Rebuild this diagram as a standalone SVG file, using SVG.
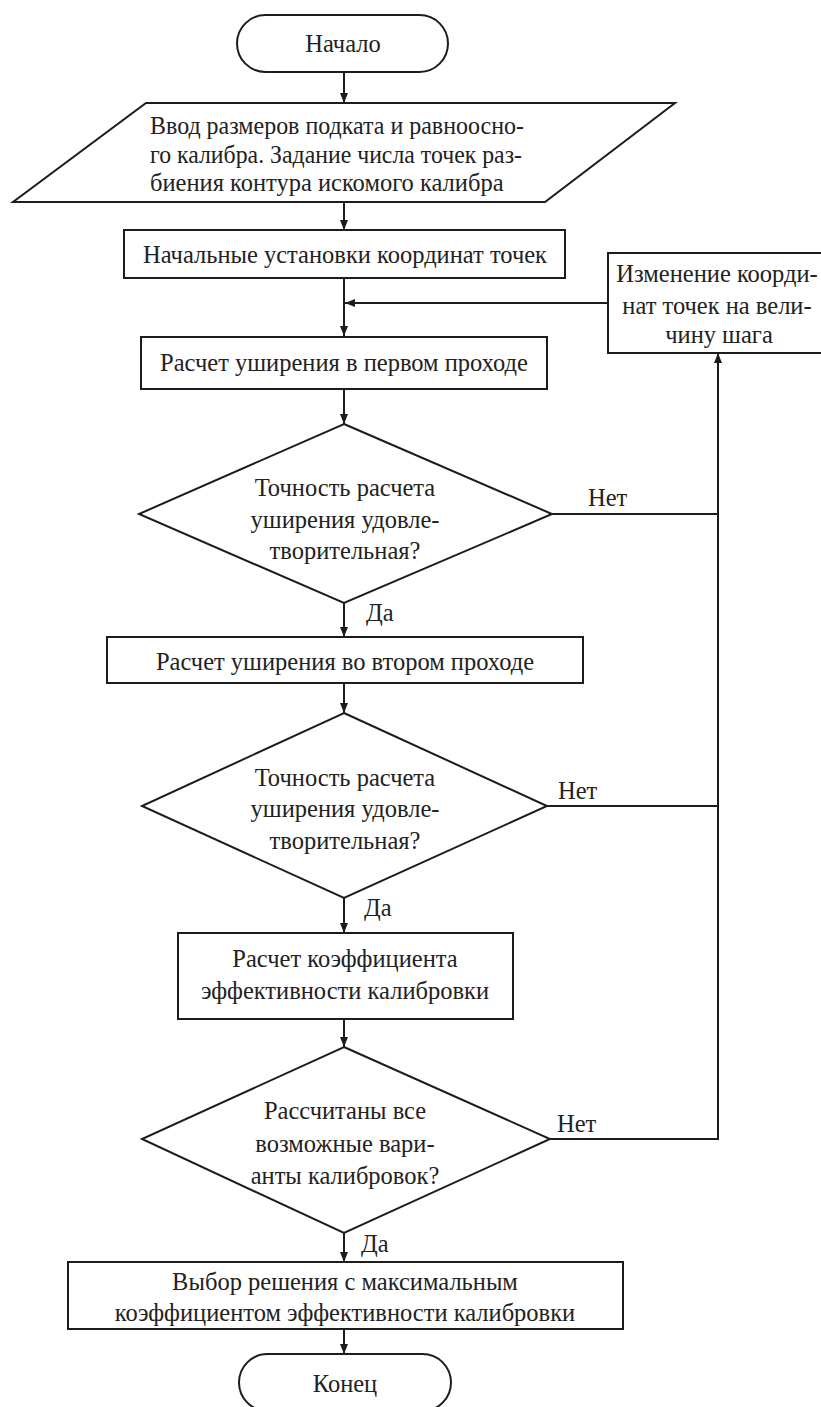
<svg xmlns="http://www.w3.org/2000/svg" width="821" height="1407" viewBox="0 0 821 1407" font-family="Liberation Serif, Tinos, DejaVu Serif, Times New Roman, serif">
  <defs>
    <marker id="arrow" viewBox="0 0 10 10" refX="10" refY="5" markerWidth="10" markerHeight="10" markerUnits="userSpaceOnUse" orient="auto">
      <path d="M0,1 L10,5 L0,9 Z" fill="#1c1c1c"/>
    </marker>
    <style>
      .shape { fill: #ffffff; stroke: #1c1c1c; stroke-width: 2; }
      .link { fill: none; stroke: #1c1c1c; stroke-width: 2; }
      .arr { marker-end: url(#arrow); }
      .t { font-size: 24.5px; fill: #222222; }
      .c { text-anchor: middle; dominant-baseline: central; }
      .l { text-anchor: start; dominant-baseline: central; }
    </style>
  </defs>
  <rect width="821" height="1407" fill="#ffffff"/>

  <!-- connectors -->
  <g id="connectors">
    <line class="link arr" x1="344" y1="72" x2="344" y2="103"/>
    <line class="link arr" x1="344" y1="202" x2="344" y2="230"/>
    <line class="link arr" x1="344" y1="278" x2="344" y2="336"/>
    <line class="link arr" x1="608" y1="303" x2="345" y2="303"/>
    <line class="link arr" x1="344" y1="389" x2="344" y2="424"/>
    <line class="link arr" x1="344" y1="603" x2="344" y2="637"/>
    <line class="link arr" x1="344" y1="683" x2="344" y2="713"/>
    <line class="link arr" x1="344" y1="898" x2="344" y2="933"/>
    <line class="link arr" x1="344" y1="1019" x2="344" y2="1047"/>
    <line class="link arr" x1="344" y1="1233" x2="344" y2="1262"/>
    <line class="link arr" x1="344" y1="1329" x2="344" y2="1354"/>
    <!-- "Нет" branches merge into the return line -->
    <line class="link" x1="552" y1="514" x2="718" y2="514"/>
    <line class="link" x1="547" y1="806" x2="718" y2="806"/>
    <polyline class="link arr" points="550,1139 718,1139 718,353"/>
    <text class="t l" x="588" y="497">Нет</text>
    <text class="t l" x="558" y="790">Нет</text>
    <text class="t l" x="557" y="1123">Нет</text>
    <text class="t l" x="366" y="612">Да</text>
    <text class="t l" x="364" y="907">Да</text>
    <text class="t l" x="361" y="1243">Да</text>
  </g>

  <g id="start">
    <rect class="shape" x="237" y="15" width="211" height="57" rx="28.5" ry="28.5"/>
    <text class="t c" x="343" y="43">Начало</text>
  </g>

  <g id="input">
    <polygon class="shape" points="146,103 675,103 545,202 13,202"/>
    <text class="t l" x="150" y="125" textLength="374" lengthAdjust="spacingAndGlyphs">Ввод размеров подката и равноосно-</text>
    <text class="t l" x="150" y="154" textLength="372" lengthAdjust="spacingAndGlyphs">го калибра. Задание числа точек раз-</text>
    <text class="t l" x="150" y="182">биения контура искомого калибра</text>
  </g>

  <g id="init">
    <rect class="shape" x="124" y="230" width="441" height="48"/>
    <text class="t c" x="345" y="254">Начальные установки координат точек</text>
  </g>

  <g id="step">
    <rect class="shape" x="608" y="253" width="220" height="100"/>
    <text class="t c" x="717" y="273">Изменение коорди-</text>
    <text class="t c" x="717" y="305">нат точек на вели-</text>
    <text class="t c" x="719" y="334">чину шага</text>
  </g>

  <g id="pass1">
    <rect class="shape" x="141" y="337" width="406" height="52"/>
    <text class="t c" x="344" y="362">Расчет уширения в первом проходе</text>
  </g>

  <g id="check1">
    <polygon class="shape" points="344,424 552,514 344,603 139,514"/>
    <text class="t c" x="345" y="487">Точность расчета</text>
    <text class="t c" x="345" y="519">уширения удовле-</text>
    <text class="t c" x="345" y="550">творительная?</text>
  </g>

  <g id="pass2">
    <rect class="shape" x="107" y="637" width="476" height="46"/>
    <text class="t c" x="345" y="661">Расчет уширения во втором проходе</text>
  </g>

  <g id="check2">
    <polygon class="shape" points="344,713 547,806 344,898 142,806"/>
    <text class="t c" x="345" y="777">Точность расчета</text>
    <text class="t c" x="345" y="808">уширения удовле-</text>
    <text class="t c" x="345" y="840">творительная?</text>
  </g>

  <g id="efficiency">
    <rect class="shape" x="178" y="933" width="335" height="86"/>
    <text class="t c" x="345" y="958">Расчет коэффициента</text>
    <text class="t c" x="345" y="990">эффективности калибровки</text>
  </g>

  <g id="check3">
    <polygon class="shape" points="344,1047 550,1139 344,1233 142,1139"/>
    <text class="t c" x="345" y="1110">Рассчитаны все</text>
    <text class="t c" x="345" y="1143">возможные вари-</text>
    <text class="t c" x="345" y="1175">анты калибровок?</text>
  </g>

  <g id="choice">
    <rect class="shape" x="68" y="1262" width="555" height="67"/>
    <text class="t c" x="345" y="1281">Выбор решения с максимальным</text>
    <text class="t c" x="345" y="1312">коэффициентом эффективности калибровки</text>
  </g>

  <g id="end">
    <rect class="shape" x="239" y="1354" width="212" height="57" rx="28.5" ry="28.5"/>
    <text class="t c" x="345" y="1383">Конец</text>
  </g>
</svg>
